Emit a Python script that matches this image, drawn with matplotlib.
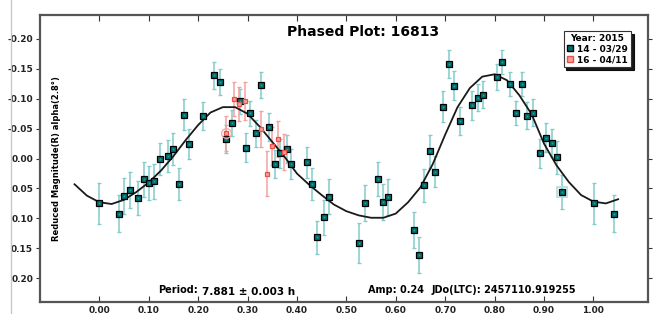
import matplotlib
matplotlib.use("Agg")
import matplotlib.pyplot as plt
from matplotlib.lines import Line2D

# session 14 - 03/29
phase_14 = [0.000, 0.040, 0.051, 0.063, 0.079, 0.090, 0.100, 0.111, 0.122, 0.139,
            0.149, 0.161, 0.172, 0.182, 0.210, 0.233, 0.245, 0.257, 0.268, 0.285,
            0.296, 0.306, 0.318, 0.328, 0.344, 0.356, 0.366, 0.379, 0.388, 0.420,
            0.431, 0.440, 0.454, 0.464, 0.526, 0.537, 0.564, 0.574, 0.585, 0.637,
            0.647, 0.658, 0.669, 0.680, 0.695, 0.707, 0.718, 0.729, 0.755, 0.766,
            0.777, 0.804, 0.814, 0.832, 0.843, 0.855, 0.866, 0.877, 0.892, 0.904,
            0.916, 0.926, 0.937, 1.002, 1.042]
mag_14 = [0.075, 0.092, 0.062, 0.052, 0.066, 0.035, 0.041, 0.038, 0.001, -0.004,
          -0.016, 0.042, -0.073, -0.024, -0.071, -0.139, -0.128, -0.033, -0.060, -0.096,
          -0.018, -0.076, -0.042, -0.123, -0.053, 0.009, -0.009, -0.016, 0.009, 0.006,
          0.043, 0.132, 0.098, 0.064, 0.141, 0.075, 0.034, 0.073, 0.064, 0.119,
          0.161, 0.045, -0.012, 0.022, -0.087, -0.158, -0.122, -0.063, -0.089, -0.102,
          -0.107, -0.137, -0.162, -0.124, -0.076, -0.124, -0.072, -0.077, -0.009, -0.035,
          -0.026, -0.002, 0.056, 0.075, 0.092]
err_14 = [0.034, 0.031, 0.030, 0.030, 0.029, 0.030, 0.029, 0.029, 0.027, 0.027,
          0.027, 0.027, 0.026, 0.025, 0.023, 0.022, 0.022, 0.023, 0.022, 0.021,
          0.024, 0.021, 0.022, 0.021, 0.023, 0.024, 0.024, 0.024, 0.025, 0.026,
          0.027, 0.028, 0.029, 0.029, 0.033, 0.030, 0.028, 0.030, 0.030, 0.030,
          0.030, 0.028, 0.027, 0.026, 0.026, 0.024, 0.024, 0.024, 0.024, 0.022,
          0.022, 0.022, 0.020, 0.020, 0.020, 0.020, 0.022, 0.022, 0.024, 0.024,
          0.024, 0.027, 0.028, 0.034, 0.031]

# session 16 - 04/11
phase_16 = [0.256, 0.272, 0.283, 0.294, 0.328, 0.339, 0.349, 0.361, 0.373]
mag_16 = [-0.042, -0.100, -0.091, -0.096, -0.050, 0.025, -0.021, -0.033, -0.011]
err_16 = [0.029, 0.028, 0.028, 0.032, 0.030, 0.037, 0.032, 0.030, 0.030]

# fourier fit
fit_phase = [-0.050, -0.025, 0.000, 0.025, 0.050, 0.075, 0.100, 0.125, 0.150, 0.175,
             0.200, 0.225, 0.250, 0.275, 0.300, 0.325, 0.350, 0.375, 0.400, 0.425,
             0.450, 0.475, 0.500, 0.525, 0.550, 0.575, 0.600, 0.625, 0.650, 0.675,
             0.700, 0.725, 0.750, 0.775, 0.800, 0.825, 0.850, 0.875, 0.900, 0.925,
             0.950, 0.975, 1.000, 1.025, 1.050]
fit_mag = [0.043, 0.062, 0.073, 0.076, 0.069, 0.056, 0.040, 0.020, -0.004, -0.031,
           -0.056, -0.077, -0.086, -0.086, -0.075, -0.053, -0.028, -0.003, 0.025, 0.044,
           0.061, 0.077, 0.088, 0.095, 0.099, 0.099, 0.092, 0.073, 0.048, 0.009,
           -0.040, -0.086, -0.118, -0.137, -0.141, -0.131, -0.106, -0.074, -0.025, 0.011,
           0.039, 0.061, 0.072, 0.075, 0.068]

x_ticks = [0.0, 0.1, 0.2, 0.3, 0.4, 0.5, 0.6, 0.7, 0.8, 0.9, 1.0]
y_ticks = [-0.20, -0.15, -0.10, -0.05, 0.00, 0.05, 0.10, 0.15, 0.20]

teal = "#006e6e"
teal_err = "#82cccc"
red = "#e8504a"
red_fill = "#f4a09a"
red_err = "#f7a0a0"

fig = plt.figure(figsize=(6.55, 3.14), dpi=100)
ax = fig.add_axes([0.061, 0.038, 0.928, 0.914])

# scanned-page border on the left
fig.add_artist(Line2D([0.017, 0.017], [0.0, 1.0], color="#c8c8c8", lw=1))

ax.errorbar(phase_14, mag_14, yerr=err_14, fmt="none", ecolor=teal_err,
            elinewidth=1.1, capsize=1.5, capthick=1, zorder=2)
ax.errorbar(phase_16, mag_16, yerr=err_16, fmt="none", ecolor=red_err,
            elinewidth=1.1, capsize=1.5, capthick=1, zorder=2)

ax.plot(fit_phase, fit_mag, color="#1a1a1a", lw=1.3, zorder=3)

ax.plot(phase_14, mag_14, "s", ms=4.0, mfc=teal, mec="black", mew=0.9, ls="none", zorder=4)
ax.plot(phase_14, mag_14, "s", ms=1.2, mfc="#2aa0a0", mec="none", ls="none", zorder=5)
ax.plot(phase_16, mag_16, "s", ms=3.3, mfc=red_fill, mec=red, mew=0.9, ls="none", zorder=6)

# highlighted points
ax.plot([phase_16[0]], [mag_16[0]], "o", ms=7, mfc="none", mec="#f3a6a0", mew=0.9, zorder=6)
ax.plot([phase_14[62]], [mag_14[62]], "s", ms=6.5, mfc="none", mec="#b8dede", mew=1.3, zorder=3)

ax.set_xlim(-0.12, 1.11)
ax.set_ylim(0.24, -0.24)
ax.set_xticks(x_ticks)
ax.set_xticklabels([f"{t:.2f}" for t in x_ticks])
ax.set_yticks(y_ticks)
ax.set_yticklabels([f"{t:.2f}" for t in y_ticks])
ax.tick_params(axis="both", labelsize=6.5, colors="#333333", width=0.8)
ax.tick_params(axis="x", direction="in", length=4, top=True, pad=3)
ax.tick_params(axis="y", direction="out", length=3, right=True, pad=2)
for lab in ax.get_xticklabels() + ax.get_yticklabels():
    lab.set_fontweight("bold")
    lab.set_color("#222222")
for side in ax.spines.values():
    side.set_color("#555555")
    side.set_linewidth(1.6)

# y label sits inside the frame in the original
ax.text(0.028, 0.5, "Reduced Magnitude(R) alpha(2.8°)", transform=ax.transAxes,
        rotation=90, ha="center", va="center", fontsize=6, fontweight="bold")

ax.text(0.531, 0.94, "Phased Plot: 16813", transform=ax.transAxes, ha="center", va="center",
        fontsize=10, fontweight="bold")
ax.text(0.227, 0.042, "Period:", transform=ax.transAxes, ha="center", va="center",
        fontsize=7, fontweight="bold")
ax.text(0.266, 0.035, "7.881 ± 0.003 h", transform=ax.transAxes, ha="left", va="center",
        fontsize=7.5, fontweight="bold")
ax.text(0.539, 0.042, "Amp: 0.24", transform=ax.transAxes, ha="left", va="center",
        fontsize=7, fontweight="bold")
ax.text(0.645, 0.042, "JDo(LTC): 2457110.919255", transform=ax.transAxes, ha="left", va="center",
        fontsize=7, fontweight="bold")

handles = [
    Line2D([], [], marker="s", ls="none", ms=4.5, mfc=teal, mec="black", mew=1.0),
    Line2D([], [], marker="s", ls="none", ms=4.0, mfc=red_fill, mec=red, mew=1.0),
]
leg = ax.legend(handles, ["14 - 03/29", "16 - 04/11"], title="Year: 2015",
                loc="upper right", bbox_to_anchor=(0.972, 0.945), fontsize=6.5,
                title_fontproperties={"weight": "bold", "size": 6.5},
                frameon=True, fancybox=False, shadow={"color": "black", "alpha": 0.9},
                borderpad=0.3, handlelength=0.8, handletextpad=0.4, labelspacing=0.2,
                borderaxespad=0.0)
leg.get_frame().set_edgecolor("#333333")
leg.get_frame().set_linewidth(0.8)
for t in leg.get_texts():
    t.set_fontweight("bold")

fig.savefig("out.png", dpi=100)
